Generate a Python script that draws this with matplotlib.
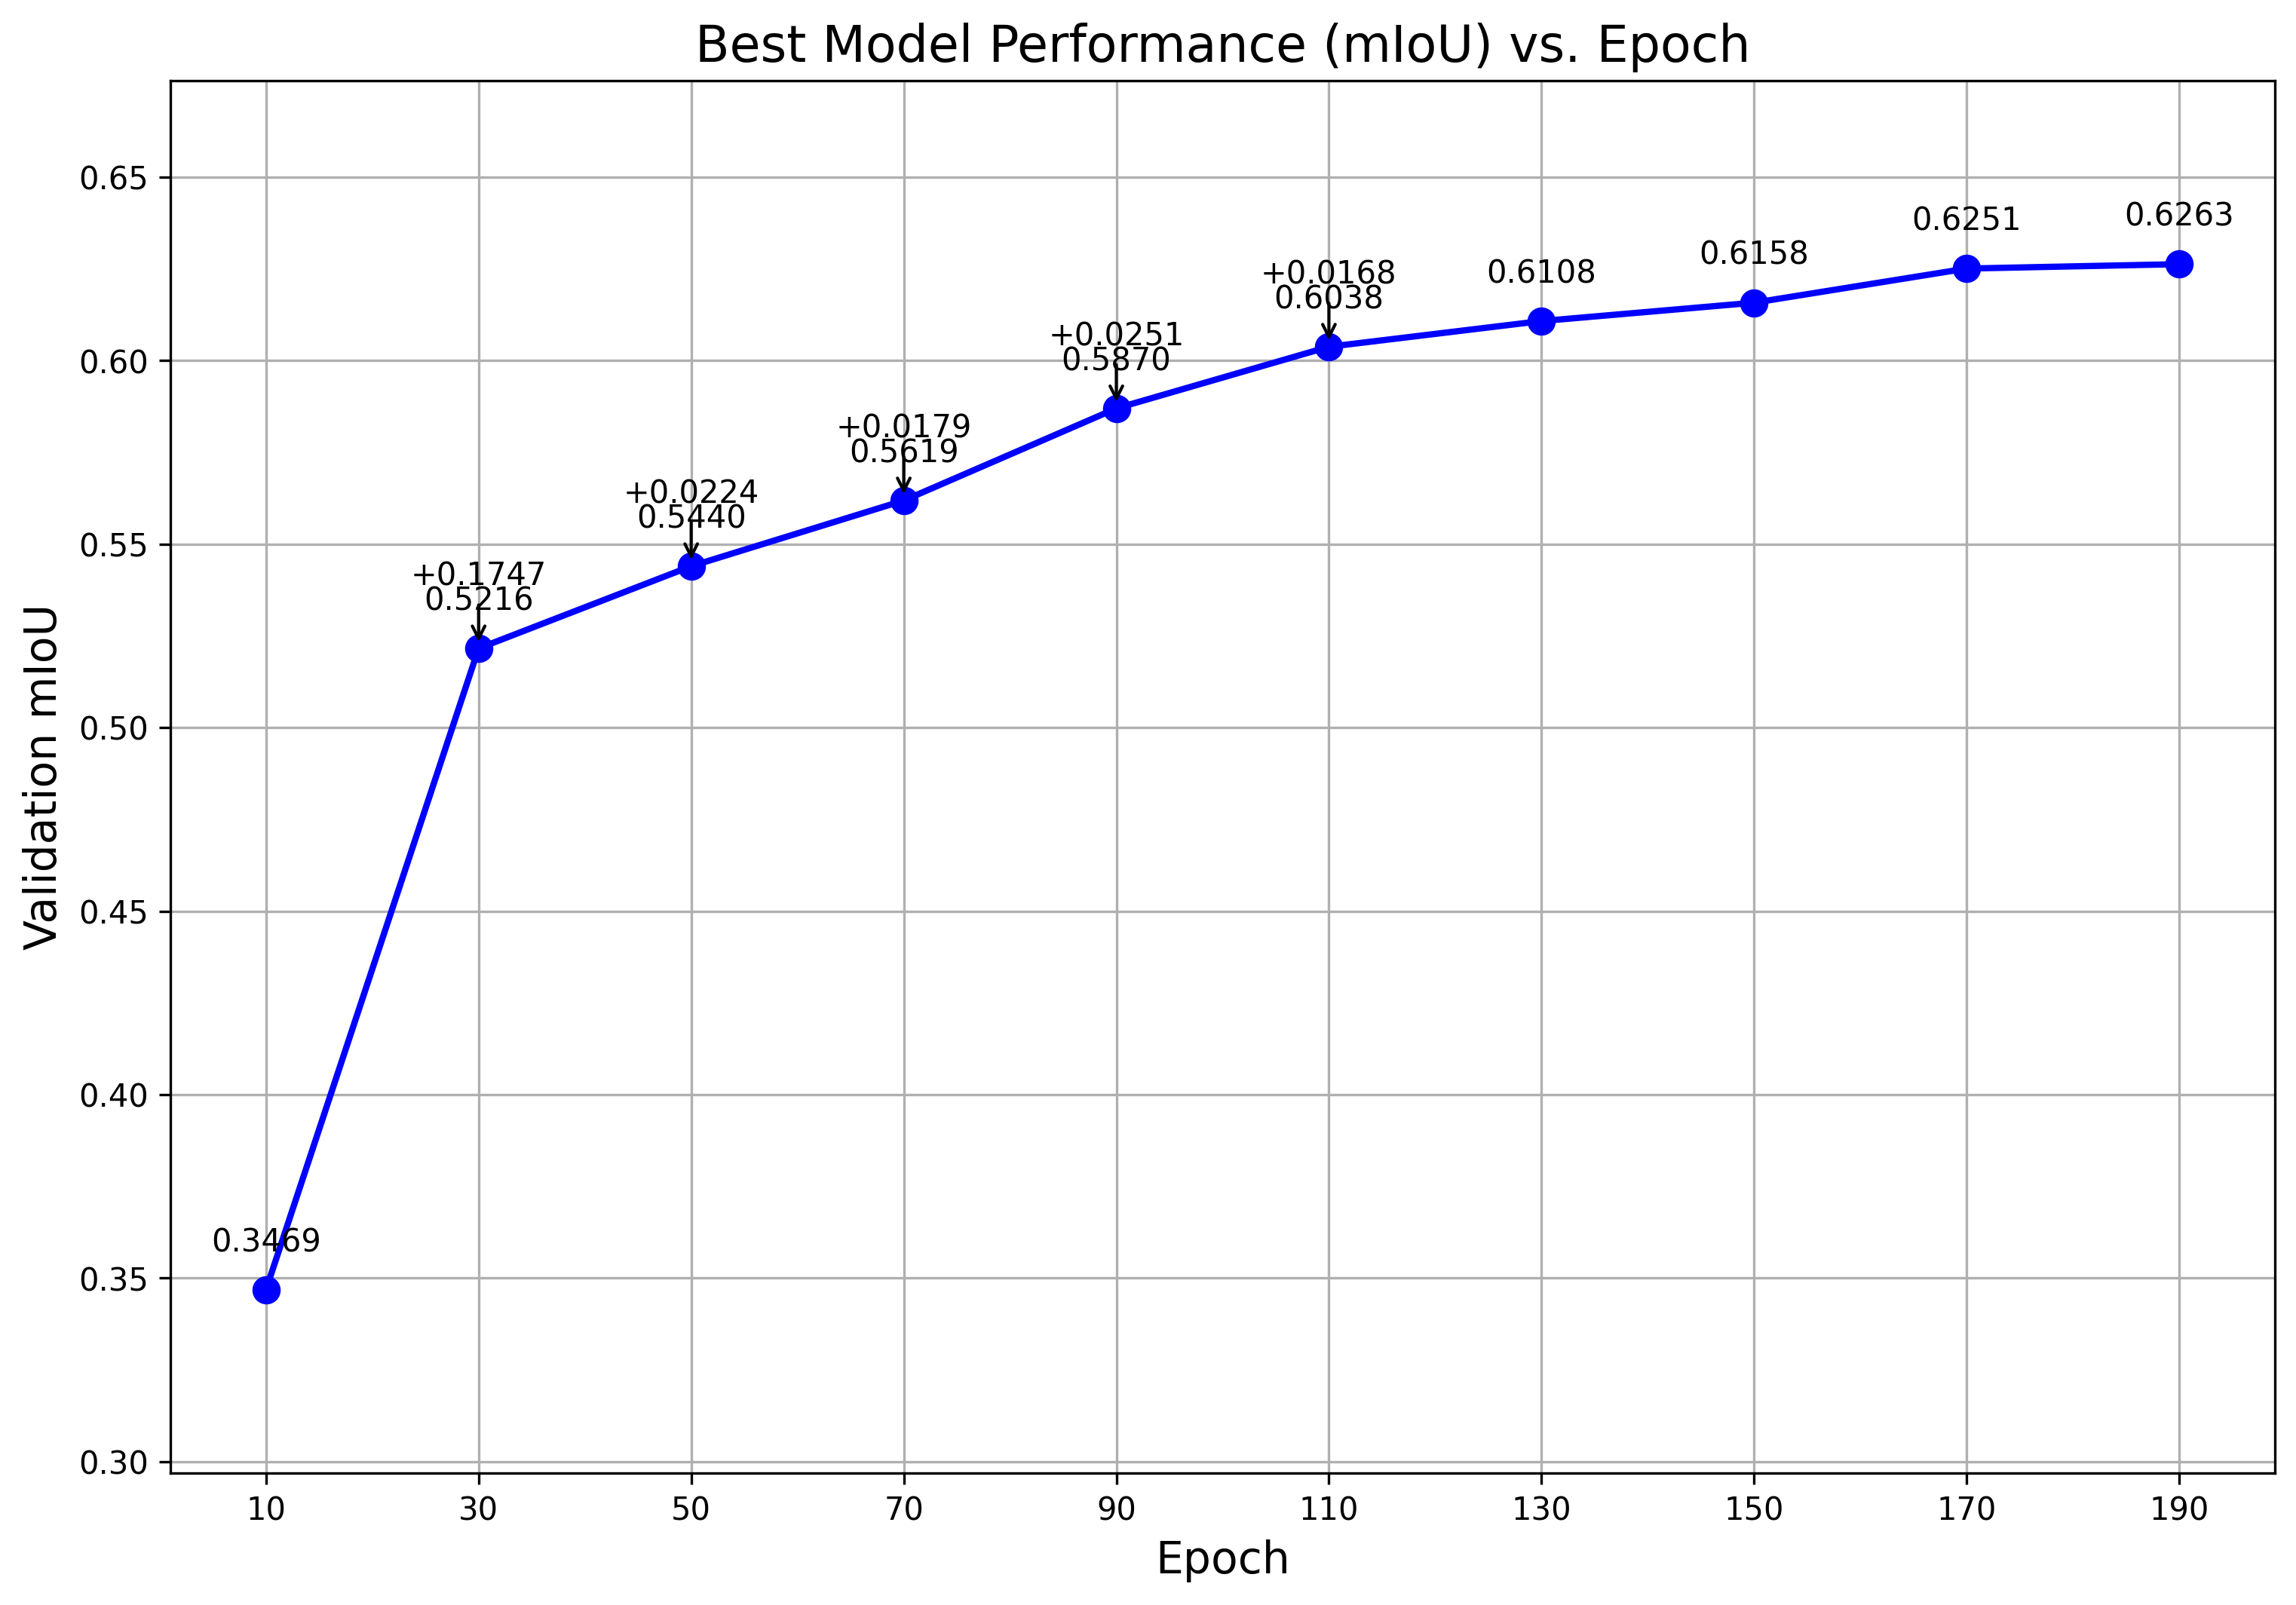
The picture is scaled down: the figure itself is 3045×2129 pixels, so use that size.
import matplotlib
matplotlib.use('Agg')
import matplotlib.pyplot as plt

# Best validation mIoU at each checkpoint
epochs = [10, 30, 50, 70, 90, 110, 130, 150, 170, 190]
miou = [0.3469, 0.5216, 0.5440, 0.5619, 0.5870, 0.6038, 0.6108, 0.6158, 0.6251, 0.6263]

fig = plt.figure(figsize=(10.15, 7.097), dpi=300)
ax = fig.add_axes([0.0742, 0.0822, 0.9166, 0.8675])

ax.plot(epochs, miou, 'o-', color='blue', linewidth=2, markersize=8)

# value labels and improvement arrows (only when gain > 0.01)
for i, (e, v) in enumerate(zip(epochs, miou)):
    ax.annotate(f'{v:.4f}', (e, v), textcoords='offset points', xytext=(0, 10),
                ha='center', va='bottom', fontsize=10)
    if i > 0:
        diff = v - miou[i - 1]
        if diff > 0.01:
            ax.annotate(f'+{diff:.4f}', xy=(e, v), textcoords='offset points',
                        xytext=(0, 20), ha='center', fontsize=10,
                        arrowprops=dict(arrowstyle='->', color='black'))

ax.set_title('Best Model Performance (mIoU) vs. Epoch', fontsize=16)
ax.set_xlabel('Epoch', fontsize=14)
ax.set_ylabel('Validation mIoU', fontsize=14)
ax.set_xticks(epochs)
ax.set_ylim(min(miou) - 0.05, max(miou) + 0.05)
ax.grid(True)

fig.savefig('out.png', dpi=300)
